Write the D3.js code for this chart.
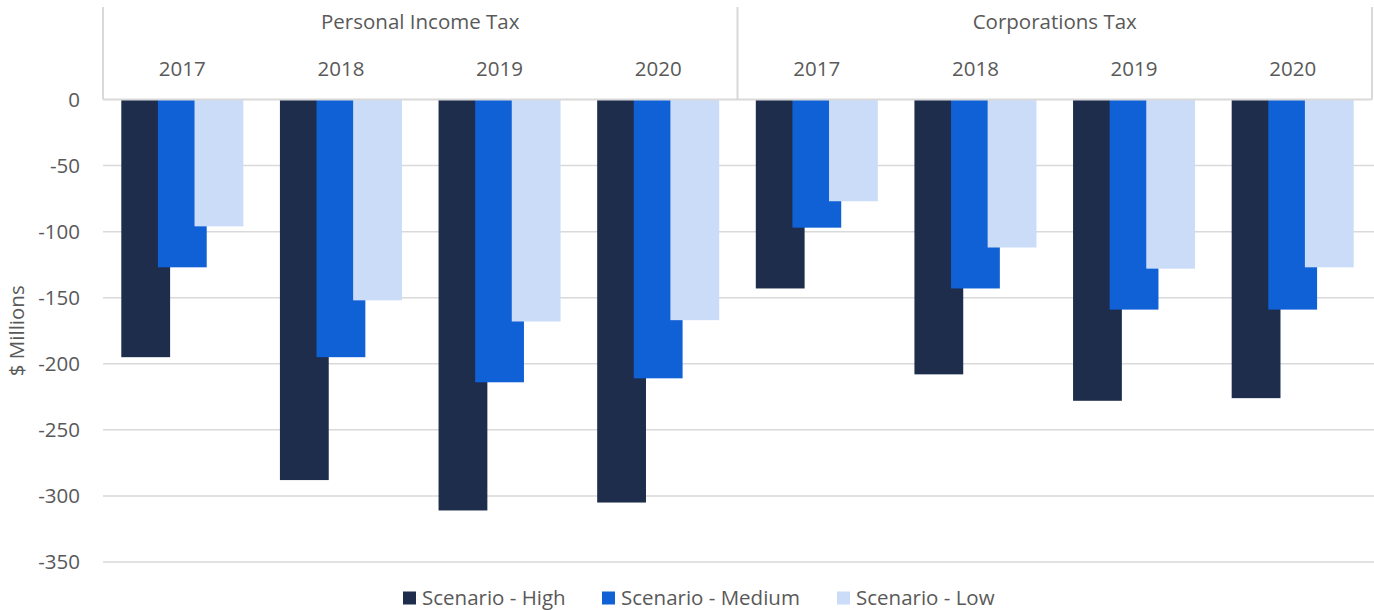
<!DOCTYPE html>
<html lang="en">
<head>
  <meta charset="UTF-8">
  <title>Scenario revenue impact</title>
  <script src="https://d3js.org/d3.v7.min.js"></script>
  <style>
    body { margin: 0; padding: 0; background: #fff; font-family: "Open Sans", sans-serif; }
    svg { display: block; }
    text { fill: #595959; }
  </style>
</head>
<body>
  <div id="chart"></div>
  <script>
    // data
    const taxes = ["Personal Income Tax", "Corporations Tax"];
    const years = ["2017", "2018", "2019", "2020"];
    const series = ["Scenario - High", "Scenario - Medium", "Scenario - Low"];
    const colors = ["#1e2d4c", "#1060d6", "#cadcf8"];
    const high   = [-195, -288, -311, -305, -143, -208, -228, -226];
    const medium = [-127, -195, -214, -211, -97, -143, -159, -159];
    const low    = [-96, -152, -168, -167, -77, -112, -128, -127];
    const yTicks = [0, -50, -100, -150, -200, -250, -300, -350];

    const W = 1374, H = 610;
    const left = 103, right = 1372, zeroY = 99.5, bottomY = 562;
    const fs = "20.5px";

    const groups = [];
    taxes.forEach(t => years.forEach(y => groups.push({ tax: t, year: y, key: t + "|" + y })));
    const values = [high, medium, low];

    const svg = d3.select("#chart").append("svg")
      .attr("width", W).attr("height", H);

    const x = d3.scaleBand().domain(groups.map(d => d.key)).range([left, right]).padding(0);
    const y = d3.scaleLinear().domain([0, -350]).range([zeroY, bottomY]);

    // bars overlap by 25%, gap 75% of bar width
    const barW = x.bandwidth() / (0.75 * 2 + 1 + 0.75);
    const step = barW * 0.75;
    const inner = d3.scaleBand().domain(series).range([0, step * 3]).padding(0);
    const offset = barW * 0.375;

    // gridlines
    svg.append("g").selectAll("line")
      .data(yTicks.filter(d => d !== 0))
      .enter().append("line")
        .attr("x1", left).attr("x2", W)
        .attr("y1", d => y(d)).attr("y2", d => y(d))
        .attr("stroke", "#d9d9d9").attr("stroke-width", 1.5);

    // y tick labels
    svg.append("g").selectAll("text")
      .data(yTicks)
      .enter().append("text")
        .attr("x", 80).attr("y", d => y(d))
        .attr("dy", "0.35em")
        .attr("text-anchor", "end")
        .style("font-size", fs)
        .text(d => d);

    // y title
    svg.append("text")
      .attr("transform", `translate(24,${(zeroY + bottomY) / 2}) rotate(-90)`)
      .attr("text-anchor", "middle")
      .style("font-size", fs)
      .text("$ Millions");

    // bars (High, then Medium, then Low on top)
    series.forEach((s, i) => {
      svg.append("g").selectAll("rect")
        .data(groups.map((g, j) => ({ g, v: values[i][j] })))
        .enter().append("rect")
          .attr("x", d => x(d.g.key) + offset + inner(s))
          .attr("y", y(0))
          .attr("width", barW)
          .attr("height", d => y(d.v) - y(0))
          .attr("fill", colors[i]);
    });

    // zero axis line
    svg.append("line")
      .attr("x1", left).attr("x2", right)
      .attr("y1", y(0)).attr("y2", y(0))
      .attr("stroke", "#d9d9d9").attr("stroke-width", 2);

    // header separators
    const sepX = [left, x(groups[4].key), right];
    svg.append("g").selectAll("line")
      .data(sepX)
      .enter().append("line")
        .attr("x1", d => d).attr("x2", d => d)
        .attr("y1", 7).attr("y2", y(0))
        .attr("stroke", "#d9d9d9").attr("stroke-width", 2);

    // year labels
    svg.append("g").selectAll("text")
      .data(groups)
      .enter().append("text")
        .attr("x", d => x(d.key) + x.bandwidth() / 2)
        .attr("y", 76)
        .attr("text-anchor", "middle")
        .style("font-size", fs)
        .text(d => d.year);

    // tax labels
    svg.append("g").selectAll("text")
      .data(taxes)
      .enter().append("text")
        .attr("x", (d, i) => (sepX[i] + sepX[i + 1]) / 2)
        .attr("y", 29)
        .attr("text-anchor", "middle")
        .style("font-size", fs)
        .text(d => d);

    // legend
    const legendX = [403, 602, 837];
    const lg = svg.append("g").selectAll("g")
      .data(series)
      .enter().append("g")
        .attr("transform", (d, i) => `translate(${legendX[i]},598)`);
    lg.append("rect")
      .attr("x", 0).attr("y", -6.5)
      .attr("width", 13).attr("height", 13)
      .attr("fill", (d, i) => colors[i]);
    lg.append("text")
      .attr("x", 19).attr("dy", "0.35em")
      .style("font-size", fs)
      .text(d => d);
  </script>
</body>
</html>
